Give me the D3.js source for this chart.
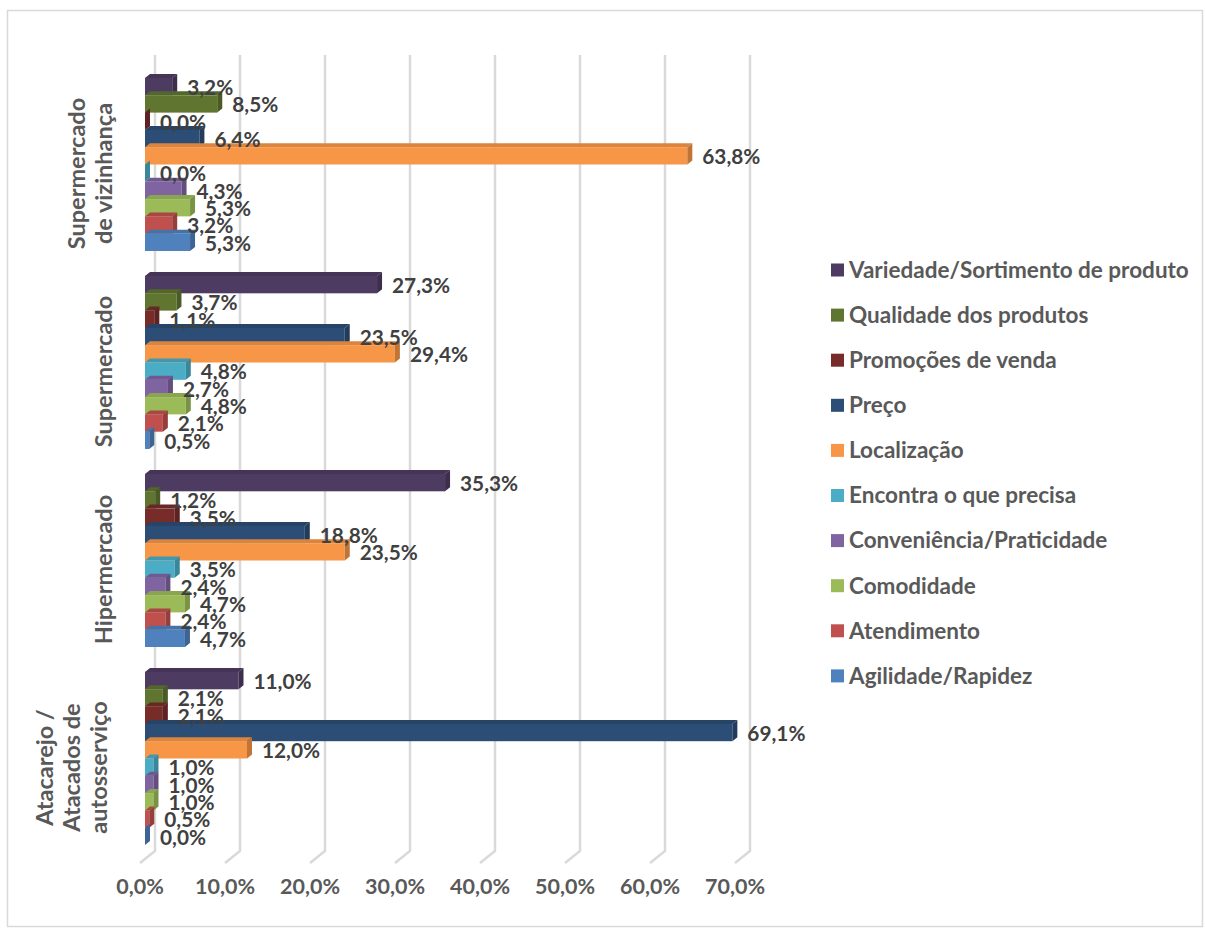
<!DOCTYPE html>
<html><head><meta charset="utf-8">
<script src="https://cdn.jsdelivr.net/npm/d3@7"></script>
<style>html,body{margin:0;padding:0;background:#fff}svg{display:block}</style>
</head><body>
<svg id="chart" width="1205" height="929"></svg>
<script>
const categories = [
  ["Supermercado", "de vizinhança"],
  ["Supermercado"],
  ["Hipermercado"],
  ["Atacarejo /", "Atacados de", "autosserviço"]
];
const seriesNames = [
  "Variedade/Sortimento de produto",
  "Qualidade dos produtos",
  "Promoções de venda",
  "Preço",
  "Localização",
  "Encontra o que precisa",
  "Conveniência/Praticidade",
  "Comodidade",
  "Atendimento",
  "Agilidade/Rapidez"
];
const seriesColors = ["#4E3B62","#5F7530","#772C2A","#2C4D75","#F79646","#4BACC6","#8064A2","#9BBB59","#C0504D","#4F81BD"];
// values[category][series] in %
const vizinhanca   = [3.2, 8.5, 0.0, 6.4, 63.8, 0.0, 4.3, 5.3, 3.2, 5.3];
const supermercado = [27.3, 3.7, 1.1, 23.5, 29.4, 4.8, 2.7, 4.8, 2.1, 0.5];
const hipermercado = [35.3, 1.2, 3.5, 18.8, 23.5, 3.5, 2.4, 4.7, 2.4, 4.7];
const atacarejo    = [11.0, 2.1, 2.1, 69.1, 12.0, 1.0, 1.0, 1.0, 0.5, 0.0];
const values = [vizinhanca, supermercado, hipermercado, atacarejo];
const tickValues = [0, 10, 20, 30, 40, 50, 60, 70];

const svg = d3.select("#chart");
const FONT = "Lato, 'Open Sans', sans-serif";
const fmt = v => d3.format(".1f")(v).replace(".", ",") + "%";

// outer border
svg.append("rect").attr("x", 7.5).attr("y", 10.5).attr("width", 1195).attr("height", 916)
  .attr("fill", "#fff").attr("stroke", "#d9d9d9").attr("stroke-width", 1.5);

const x = d3.scaleLinear().domain([0, 70]).range([145, 740]);
const backDx = 10, floorDx = -5;
const gridTop = 55, gridBottom = 851, floorY = 863;

const y = d3.scaleBand().domain(d3.range(categories.length)).range([65.5, 857.5])
  .paddingInner(25 / 198).paddingOuter(12.5 / 198);
const yInner = d3.scaleBand().domain(d3.range(seriesNames.length)).range([0, y.bandwidth()]);

// gridlines (back wall + floor)
const grid = svg.append("g");
tickValues.forEach(t => {
  const gx = x(t) + backDx;
  grid.append("path")
    .attr("d", `M${gx},${gridTop}L${gx},${gridBottom}L${x(t) + floorDx},${floorY}`)
    .attr("fill", "none").attr("stroke", "#d9d9d9").attr("stroke-width", 2.5);
});

// axis tick labels
const ax = svg.append("g");
tickValues.forEach(t => {
  ax.append("text").attr("x", x(t) + floorDx).attr("y", 886).attr("dy", "0.35em")
    .attr("text-anchor", "middle").attr("font-family", FONT).attr("font-weight", "bold")
    .attr("font-size", 21.5).attr("fill", "#595959").text(fmt(t));
});

// bars
const dX = 5, dY = 4;
const bars = svg.append("g");
values.forEach((row, ci) => {
  row.forEach((v, si) => {
    const y0 = y(ci) + yInner(si);
    const h = yInner.bandwidth();
    const x0 = x(0), x1 = x(v);
    const c = seriesColors[si];
    const g = bars.append("g");
    g.append("path").attr("d", `M${x0},${y0}L${x0 + dX},${y0 - dY}L${x1 + dX},${y0 - dY}L${x1},${y0}Z`)
      .attr("fill", d3.color(c).darker(0.35));
    g.append("rect").attr("x", x0).attr("y", y0).attr("width", x1 - x0).attr("height", h).attr("fill", c);
    g.append("path").attr("d", `M${x1},${y0}L${x1 + dX},${y0 - dY}L${x1 + dX},${y0 + h - dY}L${x1},${y0 + h}Z`)
      .attr("fill", d3.color(c).darker(0.7));
  });
});

// value labels
const labels = svg.append("g");
values.forEach((row, ci) => {
  row.forEach((v, si) => {
    const yc = y(ci) + yInner(si) + yInner.bandwidth() / 2;
    labels.append("text").attr("x", x(v) + 15).attr("y", yc + 1).attr("dy", "0.35em")
      .attr("font-family", FONT).attr("font-weight", "bold").attr("font-size", 20.8)
      .attr("fill", "#404040").text(fmt(v));
  });
});

// category labels (rotated)
const cat = svg.append("g");
categories.forEach((lines, ci) => {
  const cy = y(ci) + y.bandwidth() / 2 + 9;
  const n = lines.length;
  const lastX = n >= 3 ? 99 : 104;
  lines.forEach((ln, li) => {
    const cx = lastX - (n - 1 - li) * 27;
    cat.append("text").attr("transform", `translate(${cx},${cy}) rotate(-90)`)
      .attr("text-anchor", "middle").attr("dy", "0.35em")
      .attr("font-family", FONT).attr("font-weight", "bold").attr("font-size", 23.5)
      .attr("fill", "#595959").text(ln);
  });
});

// legend
const lg = svg.append("g");
seriesNames.forEach((name, i) => {
  const ly = 270 + i * 45.1;
  lg.append("rect").attr("x", 831).attr("y", ly - 6.5).attr("width", 13).attr("height", 13)
    .attr("fill", seriesColors[i]);
  lg.append("text").attr("x", 849).attr("y", ly).attr("dy", "0.35em")
    .attr("font-family", FONT).attr("font-weight", "bold").attr("font-size", 22.5)
    .attr("fill", "#595959").text(name);
});
</script>
</body></html>
